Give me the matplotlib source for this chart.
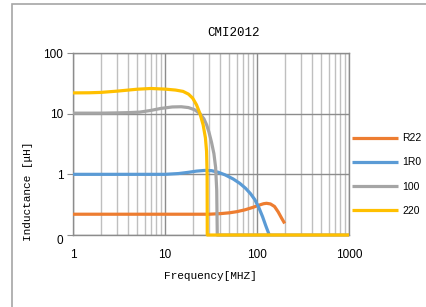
import numpy as np
import matplotlib.pyplot as plt
from matplotlib.patches import Rectangle
from matplotlib.ticker import FixedLocator, FixedFormatter, LogLocator, NullFormatter

# values (MHz, uH)
freq_r22 = [1, 10, 30, 40, 50, 60, 74, 90, 105, 118, 127, 140, 155, 170, 185, 200]
ind_r22 = [0.22, 0.22, 0.22, 0.225, 0.232, 0.242, 0.26, 0.285, 0.31, 0.328, 0.333,
           0.325, 0.295, 0.24, 0.19, 0.155]

freq_1r0 = [1, 10, 14, 18, 22, 27, 32, 38, 45, 55, 65, 75, 85, 95, 105, 115, 125, 136]
ind_1r0 = [1.0, 1.0, 1.03, 1.08, 1.13, 1.16, 1.15, 1.08, 0.98, 0.84, 0.71, 0.59,
           0.48, 0.38, 0.28, 0.2, 0.14, 0.1]

freq_100 = [1, 2, 3, 4, 5.3, 7, 9, 12, 15, 18, 21, 24, 26.5, 28.4, 30, 32, 34,
            35.5, 36.5, 37, 1000]
ind_100 = [10.2, 10.2, 10.3, 10.4, 10.6, 11.3, 12.2, 12.9, 13.0, 12.6, 11.6, 10.0,
           8.2, 6.5, 5.0, 3.4, 2.2, 1.3, 0.55, 0.1, 0.1]

freq_220 = [1, 1.5, 2, 3, 4, 5, 7, 10, 13, 15.7, 18, 20, 22, 24, 26, 27.5, 28.3,
            28.7, 28.8, 1000]
ind_220 = [22, 22.1, 22.4, 23.5, 24.5, 25.3, 26, 25.4, 24.5, 23.3, 21, 18, 14,
           10, 6.5, 4.0, 2.4, 1.0, 0.1, 0.1]

series = [
    ("R22", freq_r22, ind_r22, "#ED7D31"),
    ("1R0", freq_1r0, ind_1r0, "#5B9BD5"),
    ("100", freq_100, ind_100, "#A5A5A5"),
    ("220", freq_220, ind_220, "#FFC000"),
]

fig = plt.figure(figsize=(4.27, 3.07), dpi=100)
fig.patches.append(Rectangle((12 / 427, -0.05), 1.0, 1 - 4 / 307 + 0.05,
                             transform=fig.transFigure, fill=False,
                             edgecolor="#A6A6A6", lw=1.2))

ax = fig.add_axes([73 / 427, 1 - 235 / 307, 276 / 427, 182 / 307])
ax.set_xscale("log")
ax.set_yscale("log")
ax.set_xlim(1, 1000)
ax.set_ylim(0.1, 100)

for label, f, v, c in series:
    ax.plot(f, v, color=c, lw=2.3, label=label, clip_on=False, zorder=3,
            solid_capstyle="butt", solid_joinstyle="round")

ax.xaxis.set_major_locator(FixedLocator([1, 10, 100, 1000]))
ax.xaxis.set_major_formatter(FixedFormatter(["1", "10", "100", "1000"]))
ax.xaxis.set_minor_locator(LogLocator(base=10, subs=np.arange(2, 10)))
ax.xaxis.set_minor_formatter(NullFormatter())
ax.yaxis.set_major_locator(FixedLocator([0.1, 1, 10, 100]))
ax.yaxis.set_major_formatter(FixedFormatter(["0", "1", "10", "100"]))
ax.yaxis.set_minor_locator(FixedLocator([]))

ax.grid(True, which="major", color="#8C8C8C", lw=1.0)
ax.grid(True, which="minor", axis="x", color="#BFBFBF", lw=1.0)
ax.set_axisbelow(True)
for s in ax.spines.values():
    s.set_color("#8C8C8C")
    s.set_linewidth(1.0)

ax.tick_params(axis="x", which="both", length=0, pad=10, labelsize=8.5)
ax.tick_params(axis="y", which="major", length=4, color="#8C8C8C", pad=3, labelsize=8.5)
for t in ax.get_xticklabels() + ax.get_yticklabels():
    t.set_fontfamily("Liberation Sans")
ax.get_yticklabels()[0].set_va("top")

fig.text(233 / 427, 1 - 33 / 307, "CMI2012", ha="center", va="center",
         fontsize=9, family="Liberation Mono")
fig.text(210 / 427, 1 - 276 / 307, "Frequency[MHZ]", ha="center", va="center",
         fontsize=8, family="Liberation Mono")
fig.text(28 / 427, 1 - 191 / 307, "Inductance [μH]", ha="center", va="center",
         rotation=90, fontsize=8, family="Liberation Mono")

ax.legend(loc="center left", bbox_to_anchor=(352 / 427, 1 - 174.5 / 307),
          bbox_transform=fig.transFigure, frameon=False, borderpad=0,
          borderaxespad=0, handlelength=4.4, handletextpad=0.4,
          labelspacing=1.35, prop={"family": "Liberation Sans", "size": 7.5})

fig.savefig("out.png", dpi=100)
